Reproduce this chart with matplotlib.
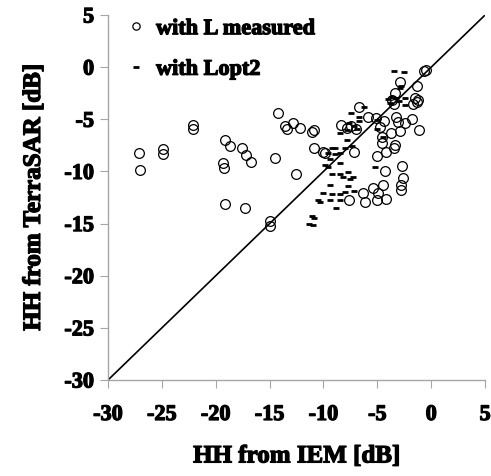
import matplotlib
matplotlib.use('Agg')
import matplotlib.pyplot as plt
import matplotlib.patheffects as pe

# HH from IEM (x) vs HH from TerraSAR (y), circles: with L measured
meas_x = [-27.1, -27.0, -24.9, -24.9, -22.1, -22.1, -19.1, -18.7, -19.3, -19.2,
          -17.6, -17.2, -16.7, -19.1, -17.3, -15.0, -15.0, -14.5, -14.2, -13.6,
          -13.4, -12.85, -12.2, -11.1, -10.9, -12.55, -10.9, -10.0, -9.9, -8.4,
          -7.45, -7.0, -6.67, -5.9, -5.1, -4.35, -4.75, -4.6, -3.7, -3.25,
          -3.1, -2.4, -1.75, -1.1, -2.9, -7.2, -4.6, -5.0, -4.2, -3.35,
          -3.45, -4.25, -2.7, -2.65, -2.8, -2.8, -5.4, -4.45, -4.9, -6.35,
          -6.15, -7.6, -5.0, -4.2, -0.7, -0.5, -2.9, -1.35, -3.35, -3.65,
          -3.5, -1.5, -1.2, -1.65, -1.35, -7.8]
meas_y = [-8.2, -9.9, -7.85, -8.36, -5.55, -5.9, -7.0, -7.6, -9.2, -9.7,
          -7.8, -8.45, -9.1, -13.1, -13.5, -14.8, -15.2, -8.7, -4.4, -5.65,
          -5.9, -5.4, -5.8, -6.2, -6.0, -10.2, -7.8, -8.1, -8.26, -5.55,
          -5.65, -5.9, -3.8, -4.8, -4.9, -5.2, -5.7, -6.67, -6.35, -4.8,
          -5.3, -5.4, -5.0, -6.0, -6.1, -8.1, -7.3, -8.5, -8.1, -7.45,
          -7.8, -9.95, -9.5, -10.6, -11.3, -11.8, -11.6, -11.3, -12.1, -12.1,
          -12.9, -12.7, -12.7, -12.6, -0.4, -0.3, -1.4, -1.8, -2.45, -3.15,
          -3.5, -3.0, -3.15, -3.5, -3.3, -5.8]

# dashes: with Lopt2
lopt_x = [-3.45, -2.5, -2.8, -2.9, -3.6, -3.3, -3.0, -2.4, -2.4, -7.45,
          -6.2, -6.75, -6.75, -7.6, -7.2, -6.9, -7.8, -8.5, -5.0, -5.0,
          -4.45, -7.85, -9.25, -8.9, -9.55, -8.9, -8.45, -8.0, -7.4, -9.4,
          -8.45, -9.85, -9.55, -9.25, -8.45, -8.15, -7.7, -7.3, -7.55, -9.4,
          -7.7, -8.0, -7.2, -10.0, -9.2, -8.45, -10.5, -10.3, -9.4, -8.45,
          -8.8, -11.1, -10.9, -11.3, -11.0, -5.2, -3.8, -4.0]
lopt_y = [-0.35, -0.45, -1.8, -2.0, -2.9, -3.0, -3.2, -3.0, -3.6, -4.4,
          -3.8, -4.8, -5.15, -5.4, -5.6, -5.9, -6.0, -6.3, -5.1, -5.9,
          -6.7, -7.0, -7.8, -7.8, -8.26, -8.3, -8.2, -7.8, -7.55, -8.8,
          -9.15, -9.4, -9.6, -10.2, -10.2, -10.5, -10.1, -10.5, -10.75, -11.3,
          -11.4, -12.0, -11.9, -12.1, -12.15, -12.15, -12.7, -12.9, -12.7, -12.7,
          -13.5, -14.3, -14.5, -15.0, -15.1, -9.55, -3.4, -3.1]

ticks = [-30, -25, -20, -15, -10, -5, 0, 5]

plt.rcParams['font.family'] = ['Liberation Serif', 'DejaVu Serif']
plt.rcParams['font.weight'] = 'bold'
bold = [pe.withStroke(linewidth=0.9, foreground='black')]

fig = plt.figure(figsize=(4.91, 4.76), dpi=100)
ax = fig.add_axes([0.22, 0.2017, 0.768, 0.7668])

ax.plot([-30, 5], [-30, 5], color='black', lw=1.2, zorder=1)
ax.plot(meas_x, meas_y, linestyle='none', marker='o', markersize=7,
        markerfacecolor='none', markeredgecolor='black', markeredgewidth=0.9,
        label='with L measured', zorder=3)
ax.plot(lopt_x, lopt_y, linestyle='none', marker='_', markersize=5,
        markeredgecolor='black', markeredgewidth=2, label='with Lopt2', zorder=2)

ax.set_xlim(-30, 5)
ax.set_ylim(-30, 5)
ax.set_xticks(ticks)
ax.set_yticks(ticks)
ax.set_xticklabels([str(t) for t in ticks], fontsize=16, fontweight='bold')
ax.set_yticklabels([str(t) for t in ticks], fontsize=16, fontweight='bold')
ax.tick_params(axis='x', direction='out', length=6, color='#a6a6a6', pad=12)
ax.tick_params(axis='y', direction='out', length=6, color='#a6a6a6', pad=4)
for s in ['top', 'right']:
    ax.spines[s].set_visible(False)
for s in ['left', 'bottom']:
    ax.spines[s].set_color('#a6a6a6')
    ax.spines[s].set_linewidth(1.0)
for t in ax.get_xticklabels() + ax.get_yticklabels():
    t.set_path_effects(bold)

xl = ax.set_xlabel('HH from IEM [dB]', fontsize=18, fontweight='bold', labelpad=14)
yl = ax.set_ylabel('HH from TerraSAR [dB]', fontsize=18, fontweight='bold', labelpad=14)
xl.set_path_effects(bold)
yl.set_path_effects(bold)

leg = ax.legend(loc='upper left', frameon=False, fontsize=16, handlelength=1,
                handletextpad=0.4, borderpad=0, borderaxespad=0, markerscale=0.75,
                labelspacing=0.9, bbox_to_anchor=(0.045, 0.99))
for t in leg.get_texts():
    t.set_fontweight('bold')
    t.set_path_effects(bold)

fig.savefig('out.png', dpi=100)
